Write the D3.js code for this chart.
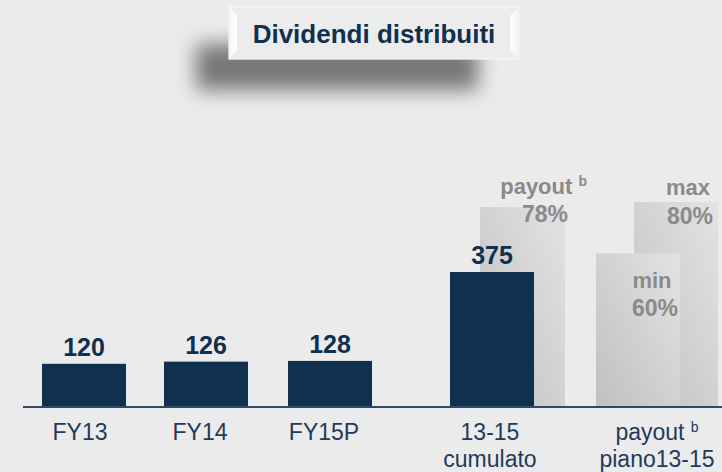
<!DOCTYPE html>
<html>
<head>
<meta charset="utf-8">
<script src="https://cdn.jsdelivr.net/npm/d3@7/dist/d3.min.js"></script>
<style>
  html, body { margin: 0; padding: 0; background: #ebebeb; }
  svg { display: block; font-family: "Liberation Sans", Arial, sans-serif; }
</style>
</head>
<body>
<svg id="chart" width="722" height="472"></svg>
<script>
// Dividends paid (EUR m) and payout ratios
const categories = ["FY13", "FY14", "FY15P", "13-15\ncumulato", "payout|b\npiano13-15"];
const dividends = [
  { cat: "FY13", value: 120 },
  { cat: "FY14", value: 126 },
  { cat: "FY15P", value: 128 },
  { cat: "13-15\ncumulato", value: 375 }
];
const payoutActual = [{ cat: "13-15\ncumulato", value: 78, top: "payout|b", label: "78%" }];
const payoutPlan = [
  { cat: "payout|b\npiano13-15", value: 60, top: "min", label: "60%" },
  { cat: "payout|b\npiano13-15", value: 80, top: "max", label: "80%" }
];
const title = "Dividendi distribuiti";

const svg = d3.select("#chart");
const W = 722, baseY = 407;

const defs = svg.append("defs");
defs.append("filter").attr("id", "shadowBlur")
  .attr("x", "-30%").attr("y", "-100%").attr("width", "160%").attr("height", "300%")
  .append("feGaussianBlur").attr("stdDeviation", 10);
const grad = defs.append("linearGradient").attr("id", "greyGrad")
  .attr("x1", "0%").attr("y1", "100%").attr("x2", "100%").attr("y2", "0%");
grad.append("stop").attr("offset", "0%").attr("stop-color", "#c0c0c0");
grad.append("stop").attr("offset", "100%").attr("stop-color", "#e3e3e3");
const bevL = defs.append("linearGradient").attr("id", "bevL")
  .attr("x1", "0%").attr("y1", "0%").attr("x2", "100%").attr("y2", "0%");
bevL.append("stop").attr("offset", "0%").attr("stop-color", "#f6f6f6");
bevL.append("stop").attr("offset", "100%").attr("stop-color", "#ffffff");
const bevR = defs.append("linearGradient").attr("id", "bevR")
  .attr("x1", "0%").attr("y1", "0%").attr("x2", "100%").attr("y2", "0%");
bevR.append("stop").attr("offset", "0%").attr("stop-color", "#ffffff");
bevR.append("stop").attr("offset", "100%").attr("stop-color", "#f3f3f3");

// Slot centres: the cumulative and plan groups sit after a wider gap
const centres = {
  "FY13": 84, "FY14": 206, "FY15P": 330,
  "13-15\ncumulato": 492, "payout|b\npiano13-15": 657
};
const labelShift = { "FY13": -4, "FY14": -6, "FY15P": -6, "13-15\ncumulato": -2, "payout|b\npiano13-15": 0 };
const barW = 84;

const yVal = d3.scaleLinear().domain([0, 375]).range([baseY, 272]);
const yPct = d3.scaleLinear().domain([0, 80]).range([baseY, 202]);

// writes "word|sup" as text with a raised small tspan
function withSup(sel, s, supSize) {
  const [main, sup] = s.split("|");
  sel.append("tspan").text(main + (sup ? " " : ""));
  if (sup) sel.append("tspan").attr("font-size", supSize).attr("dy", -8).text(sup);
}

// Payout bars (drawn behind the dividend bars)
const grey = svg.append("g");
const greyX = { "78%": 480, "60%": 596, "80%": 634 };
payoutActual.forEach(d => {
  grey.append("rect").attr("x", greyX[d.label]).attr("width", 85)
    .attr("y", yPct(d.value)).attr("height", baseY - yPct(d.value))
    .attr("fill", "url(#greyGrad)");
});
[payoutPlan[1], payoutPlan[0]].forEach(d => {
  grey.append("rect").attr("x", greyX[d.label]).attr("width", 84)
    .attr("y", yPct(d.value)).attr("height", baseY - yPct(d.value))
    .attr("fill", "url(#greyGrad)");
});

// Dividend bars
svg.append("g").selectAll("rect").data(dividends).join("rect")
  .attr("x", d => centres[d.cat] - barW / 2)
  .attr("width", barW)
  .attr("y", d => yVal(d.value))
  .attr("height", d => baseY + 1 - yVal(d.value))
  .attr("fill", "#10304f");

svg.append("g").selectAll("text").data(dividends).join("text")
  .attr("x", d => centres[d.cat])
  .attr("y", d => yVal(d.value) - 8)
  .attr("text-anchor", "middle")
  .attr("font-size", 25).attr("font-weight", "bold")
  .attr("fill", "#10304f")
  .text(d => d.value);

// Payout labels
const pl = svg.append("g").attr("fill", "#8a8a8a").attr("font-weight", "bold").attr("font-size", 22);
const a = payoutActual[0];
withSup(pl.append("text").attr("x", 587).attr("y", 194).attr("text-anchor", "end"), a.top, 14);
pl.append("text").attr("x", 568).attr("y", 222).attr("text-anchor", "end").attr("font-size", 23).text(a.label);
const pMin = payoutPlan[0], pMax = payoutPlan[1];
pl.append("text").attr("x", 652).attr("y", 288).attr("text-anchor", "middle").text(pMin.top);
pl.append("text").attr("x", 655).attr("y", 316).attr("text-anchor", "middle").attr("font-size", 23).text(pMin.label);
pl.append("text").attr("x", 710).attr("y", 195).attr("text-anchor", "end").text(pMax.top);
pl.append("text").attr("x", 713).attr("y", 224).attr("text-anchor", "end").attr("font-size", 23).text(pMax.label);

// Axis baseline
svg.append("line").attr("x1", 23).attr("x2", W).attr("y1", baseY).attr("y2", baseY)
  .attr("stroke", "#2e4a6a").attr("stroke-width", 2);

// Category labels
const cl = svg.append("g").attr("fill", "#1f3a5a").attr("font-size", 23);
categories.forEach(c => {
  const lines = c.split("\n");
  const cx = centres[c] + labelShift[c];
  lines.forEach((ln, i) => {
    const t = cl.append("text").attr("text-anchor", "middle").attr("x", cx).attr("y", 440 + i * 27);
    withSup(t, ln, 14);
  });
});

// Title box with soft drop shadow
svg.append("rect").attr("x", 196).attr("y", 44).attr("width", 282).attr("height", 46)
  .attr("fill", "#777").attr("filter", "url(#shadowBlur)");
const tb = svg.append("g");
tb.append("rect").attr("x", 229).attr("y", 7).attr("width", 290).attr("height", 52)
  .attr("fill", "#ececec").attr("stroke", "#f7f7f7").attr("stroke-width", 1.2);
// bevel edges
tb.append("path").attr("d", "M230,8 L237,16 L237,50 L230,58 Z").attr("fill", "url(#bevL)");
tb.append("path").attr("d", "M518,8 L510,16 L510,50 L518,58 Z").attr("fill", "url(#bevR)");
tb.append("text").attr("x", 374).attr("y", 43).attr("text-anchor", "middle")
  .attr("font-size", 26).attr("font-weight", "bold").attr("fill", "#10304f")
  .text(title);
</script>
</body>
</html>
